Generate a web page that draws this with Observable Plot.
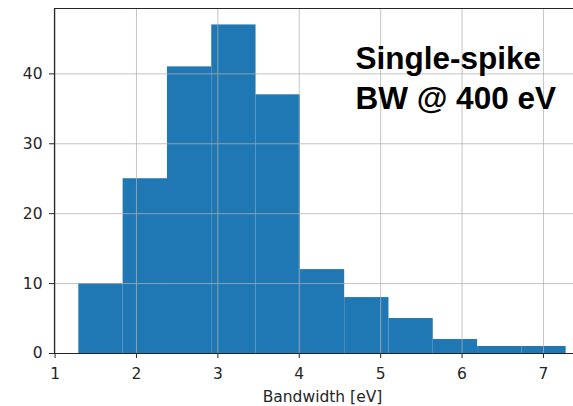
<!DOCTYPE html>
<html><head><meta charset="utf-8">
<script src="https://cdn.jsdelivr.net/npm/d3@7"></script>
<script src="https://cdn.jsdelivr.net/npm/@observablehq/plot@0.6"></script>
<style>html,body{margin:0;padding:0;background:#fff;overflow:hidden;width:573px;height:406px}
#chart{width:573px;height:406px;overflow:hidden}
#chart svg{max-width:none !important;}</style>
</head><body><div id="chart"></div>
<script>
// Histogram bin edges (eV) and counts
const binEdges = [1.292, 1.836, 2.381, 2.925, 3.469, 4.014, 4.558, 5.102, 5.646, 6.191, 6.735, 7.279];
const counts   = [10, 25, 41, 47, 37, 12, 8, 5, 2, 1, 1];
const xTicks = [1, 2, 3, 4, 5, 6, 7];
const yTicks = [0, 10, 20, 30, 40];
const xLimits = [0.993, 7.578];
const yLimits = [0, 49.35];
const xLabel = "Bandwidth [eV]";
const annotationLines = ["Single-spike", "BW @ 400 eV"];
const annotationPos = {x: 4.69, y: 44.85};

const bins = counts.map((c, i) => ({x1: binEdges[i], x2: binEdges[i + 1], count: c}));
const ink = "#262626";
const gridColor = "#b0b0b0";
const fs = 15.5;

const chart = Plot.plot({
  width: 590,
  height: 406,
  marginLeft: 54,
  marginRight: 0,
  marginTop: 8,
  marginBottom: 53,
  style: {fontFamily: "'DejaVu Sans', sans-serif", fontSize: fs + "px", color: ink, background: "#fff", overflow: "hidden", maxWidth: "none"},
  x: {domain: xLimits},
  y: {domain: yLimits},
  marks: [
    Plot.rectY(bins, {x1: "x1", x2: "x2", y: "count", fill: "#1f77b4", inset: 0}),
    Plot.gridX(xTicks, {stroke: gridColor, strokeOpacity: 0.75, strokeWidth: 1}),
    Plot.gridY(yTicks, {stroke: gridColor, strokeOpacity: 0.75, strokeWidth: 1}),
    Plot.ruleX([xLimits[0]], {stroke: ink, strokeWidth: 1.2}),
    Plot.ruleY([yLimits[0]], {stroke: ink, strokeWidth: 1.2}),
    Plot.ruleY([yLimits[1]], {stroke: ink, strokeWidth: 1.2}),
    Plot.axisX(xTicks, {tickSize: 5, tickPadding: 9, stroke: ink, fill: ink, fontSize: fs, label: null}),
    Plot.axisY(yTicks, {tickSize: 5, tickPadding: 7, stroke: ink, fill: ink, fontSize: fs, label: null}),
    Plot.text([xLabel], {
      frameAnchor: "bottom", lineAnchor: "top", dy: 37.5,
      fontFamily: "'DejaVu Sans', sans-serif", fontSize: fs, fill: ink
    }),
    Plot.text([annotationLines.join("\n")], {
      x: () => annotationPos.x, y: () => annotationPos.y,
      textAnchor: "start", lineAnchor: "top", lineHeight: 1.28,
      fontFamily: "'Liberation Sans', Arial, sans-serif", fontWeight: "bold", fontSize: 31.5, fill: "#000"
    })
  ]
});
document.getElementById("chart").appendChild(chart);
</script>
</body></html>
